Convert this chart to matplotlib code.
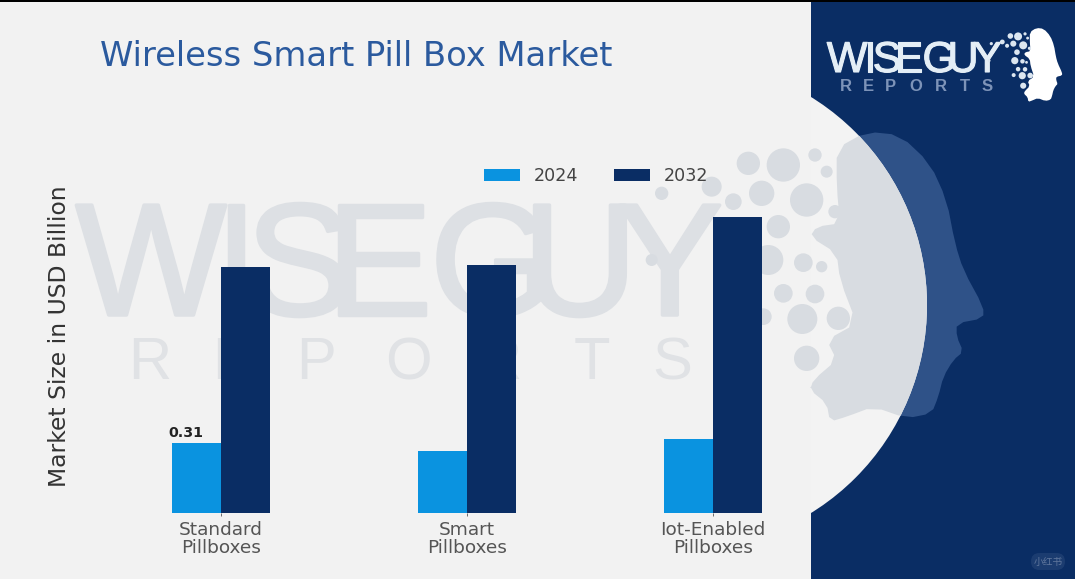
import matplotlib
matplotlib.use("Agg")
import matplotlib.pyplot as plt
import matplotlib.patheffects as pe
from matplotlib.patches import Rectangle, Circle, Polygon, FancyBboxPatch

categories = ["Standard\nPillboxes", "Smart\nPillboxes", "Iot-Enabled\nPillboxes"]
values_2024 = [0.31, 0.275, 0.33]
values_2032 = [1.09, 1.10, 1.31]
series_names = ["2024", "2032"]
LIGHT, NAVY = "#0A93E0", "#0A2D64"
BG = "#F2F2F2"
SANS = "Liberation Sans"

W, H = 1075, 579
fig = plt.figure(figsize=(W / 100, H / 100), dpi=100, facecolor=BG)

# decorative layer in pixel coordinates
bg = fig.add_axes([0, 0, 1, 1], zorder=0)
bg.set_xlim(0, W)
bg.set_ylim(H, 0)
bg.axis("off")

bg.add_patch(Rectangle((811, 0), W - 811, H, fc=NAVY, ec="none", zorder=1))
clip_rect = Rectangle((811, 0), W - 811, H, transform=bg.transData)
circ = Circle((682.5, 305), 244.5, fc="#F3F3F3", ec="none", zorder=2)
bg.add_patch(circ)
circ.set_clip_path(clip_rect)


def chaikin(pts):
    out = []
    n = len(pts)
    for i in range(n):
        (x0, y0), (x1, y1) = pts[i], pts[(i + 1) % n]
        out.append((0.75 * x0 + 0.25 * x1, 0.75 * y0 + 0.25 * y1))
        out.append((0.25 * x0 + 0.75 * x1, 0.25 * y0 + 0.75 * y1))
    return out


head_z = [(590, 85), (680, 35), (780, 45), (870, 130), (920, 240), (945, 370), (970, 450),
          (1030, 560), (1030, 595), (950, 610), (950, 650), (970, 695), (940, 720), (910, 770),
          (895, 830), (875, 880), (800, 895), (700, 860), (620, 890), (570, 905), (560, 850),
          (510, 810), (520, 780), (590, 720), (560, 660), (650, 610), (600, 480), (590, 400),
          (510, 350), (530, 320), (600, 310), (590, 200)]
dots_z = [(325, 130, 35), (430, 135, 50), (525, 105, 20), (560, 155, 18), (365, 220, 38),
          (500, 240, 50), (585, 275, 20), (415, 320, 35), (215, 200, 30), (280, 245, 25),
          (65, 220, 20), (490, 428, 28), (545, 440, 17), (385, 420, 45), (430, 520, 28),
          (525, 522, 28), (487, 597, 45), (595, 595, 35), (500, 715, 38), (370, 590, 25),
          (35, 420, 18)]
head_px = chaikin([(640 + x / 3, 120 + y / 3) for x, y in head_z])
dots_px = [(640 + x / 3, 120 + y / 3, r / 3) for x, y, r in dots_z]

bg.add_patch(Polygon(head_px, closed=True, fc="#2F5288", ec="none", zorder=1.5))
GREY = "#D8DCE1"
grey_head = Polygon(head_px, closed=True, fc=GREY, ec="none", zorder=3)
bg.add_patch(grey_head)
grey_head.set_clip_path(Circle((682.5, 305), 244.5, transform=bg.transData))
for x, y, r in dots_px:
    bg.add_patch(Circle((x, y), r, fc=GREY, ec="none", zorder=3))

# big watermark text, letter by letter because the logo's letters touch
wm_letters = [("W", 151), ("I", 236), ("S", 299), ("E", 379), ("G", 492), ("U", 580), ("Y", 670)]
for ch, cx in wm_letters:
    bg.text(cx, 315, ch, fontsize=115, family=SANS, color="#DDE0E4", ha="center",
            va="baseline", zorder=2.5,
            path_effects=[pe.withStroke(linewidth=2.5, foreground="#DDE0E4")])
wm_sub = [("R", 150), ("E", 232), ("P", 316), ("O", 408), ("R", 500), ("T", 592), ("S", 672)]
for ch, cx in wm_sub:
    bg.text(cx, 379, ch, fontsize=43, family=SANS, color="#E0E2E5", ha="center",
            va="baseline", zorder=2.5)

# top-right logo
LOGO_S = 0.27
for ch, cx in wm_letters:
    bg.text(828 + (cx - 80) * LOGO_S, 72, ch, fontsize=115 * LOGO_S, family=SANS,
            color="#E4EEF6", ha="center", va="baseline", zorder=5,
            path_effects=[pe.withStroke(linewidth=0.8, foreground="#E4EEF6")])
for ch, cx in wm_sub:
    bg.text(846 + (cx - 150) * 0.27, 91, ch, fontsize=12, family=SANS, fontweight="bold",
            color="#7D93B8", ha="center", va="baseline", zorder=5)


def logo_xy(x, y):
    return 1062 - (983 - x) * 0.22, 28 + (y - 132) * 0.255


bg.add_patch(Polygon([logo_xy(x, y) for x, y in head_px], closed=True, fc="white", ec="none", zorder=5))
for x, y, r in dots_px:
    lx, ly = logo_xy(x, y)
    bg.add_patch(Circle((lx, ly), max(r * 0.24, 1.4), fc="#DCE6F0", ec="none", zorder=5))

# top black strip and corner badge
bg.add_patch(Rectangle((0, 0), W, 2, fc="black", ec="none", zorder=6))
bg.add_patch(FancyBboxPatch((1031, 553), 34, 17, boxstyle="round,pad=0,rounding_size=8.5",
                            fc="#1B3C70", ec="none", zorder=6))
bg.text(1048, 561.5, "小红书", fontsize=7, family=["Noto Sans CJK SC", "DejaVu Sans"],
        color="#5F769C", ha="center", va="center", zorder=7)

# title and y label
bg.text(100, 56, "Wireless Smart Pill Box Market", fontsize=24.3, color="#2B5A9E",
        ha="left", va="center", zorder=6)
bg.text(60, 336, "Market Size in USD Billion", fontsize=16.9, color="#333333", rotation=90,
        ha="center", va="center", zorder=6)

# chart axes
left_px, right_px = 147, 787
top_px, bottom_px = 197, 513
ax = fig.add_axes([left_px / W, 1 - bottom_px / H, (right_px - left_px) / W, (bottom_px - top_px) / H], zorder=2)
ax.patch.set_alpha(0)
x = list(range(len(categories)))
bw = 0.2
ax.bar([i - bw / 2 for i in x], values_2024, bw, color=LIGHT, label=series_names[0])
ax.bar([i + bw / 2 for i in x], values_2032, bw, color=NAVY, label=series_names[1])
ax.set_xlim(-0.3, 2.3)
ax.set_ylim(0, 1.4)
ax.set_xticks(x)
ax.set_xticklabels(categories, fontsize=13.3, color="#555555", linespacing=0.95)
ax.tick_params(axis="x", length=2, width=0.6, color="#555555", pad=4)
ax.set_yticks([])
for s in ax.spines.values():
    s.set_visible(False)
ax.annotate(f"{values_2024[0]:.2f}", (x[0] - bw / 2, values_2024[0]), xytext=(-7.5, 2),
            textcoords="offset points", ha="center", va="bottom", fontsize=10.3,
            fontweight="bold", color="#222222")

fs = 12.6
ax.legend(loc="center", bbox_to_anchor=(596 / W, 1 - 176 / H), bbox_transform=fig.transFigure,
          ncol=2, frameon=False, fontsize=fs, labelcolor="#444444", borderpad=0,
          handlelength=2.07, handleheight=0.7, handletextpad=0.75, columnspacing=2.07)

fig.savefig("out.png", dpi=100, facecolor=BG)
